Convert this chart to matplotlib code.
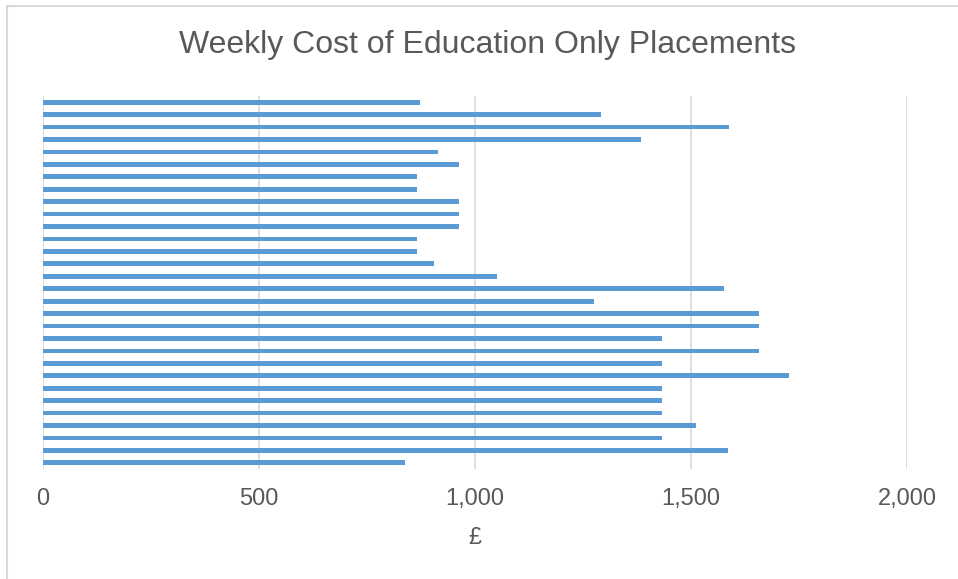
import matplotlib
matplotlib.use("Agg")
import matplotlib.pyplot as plt
from matplotlib.lines import Line2D
from matplotlib.ticker import FuncFormatter

# Data (top to bottom as displayed)
placements = [f"Placement {i}" for i in range(1, 31)]
weekly_cost = [873, 1292, 1589, 1385, 914, 962, 866, 866, 962, 962,
               962, 866, 866, 906, 1051, 1576, 1276, 1658, 1658, 1434,
               1658, 1434, 1727, 1434, 1434, 1434, 1512, 1434, 1585, 838]
x_ticks = [0, 500, 1000, 1500, 2000]

plt.rcParams['font.family'] = ['Liberation Sans', 'DejaVu Sans']
TEXT = '#595959'
GRID = '#d9d9d9'
BAR = '#5B9BD5'

fig = plt.figure(figsize=(9.58, 5.79), dpi=100)
ax = fig.add_axes([43/958, 1-469/579, (907-43)/958, (469-96)/579])

ypos = list(range(len(placements)))
ax.barh(ypos, weekly_cost, height=0.38, color=BAR, zorder=3)
ax.set_ylim(len(placements) - 0.5, -0.5)
ax.set_xlim(0, 2000)
ax.set_yticks([])
ax.set_xticks(x_ticks)
ax.xaxis.set_major_formatter(FuncFormatter(lambda v, p: f"{int(v):,}"))
ax.tick_params(axis='x', length=0, pad=14, labelsize=17, labelcolor=TEXT)
ax.grid(axis='x', color=GRID, linewidth=1.2, zorder=0)
for s in ax.spines.values():
    s.set_visible(False)
ax.set_xlabel('£', fontsize=17, color=TEXT, labelpad=12)

fig.text(487/958, 1-45/579, 'Weekly Cost of Education Only Placements',
         ha='center', va='center', fontsize=23, color=TEXT)

# Chart border (left and top visible)
fig.add_artist(Line2D([7/958, 7/958], [0, 1-6/579], transform=fig.transFigure,
                      color=GRID, linewidth=1.5))
fig.add_artist(Line2D([7/958, 1], [1-6/579, 1-6/579], transform=fig.transFigure,
                      color=GRID, linewidth=1.5))

fig.savefig('out.png', dpi=100)
